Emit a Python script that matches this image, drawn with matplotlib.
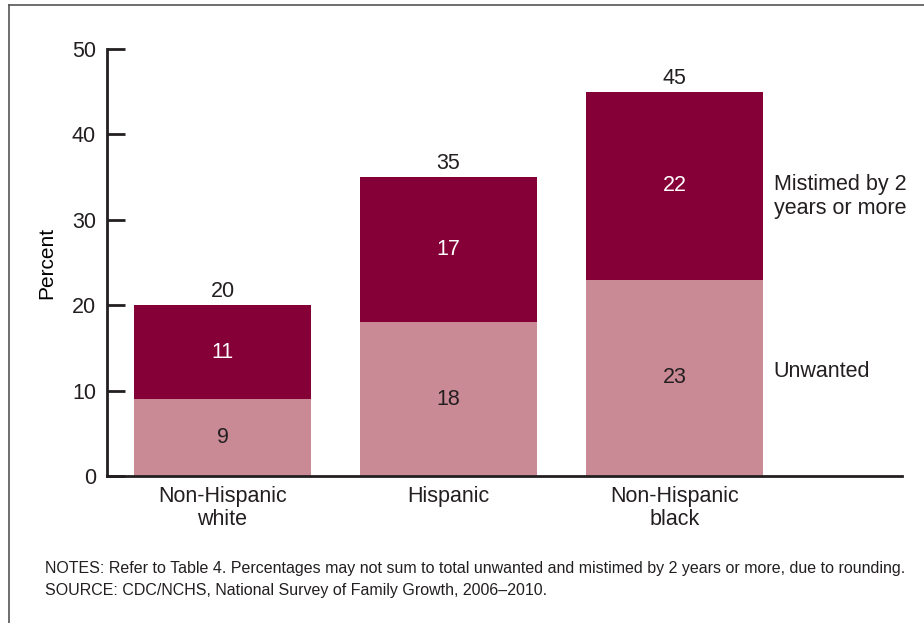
import matplotlib
matplotlib.use("Agg")
import matplotlib.pyplot as plt
from matplotlib.lines import Line2D

groups = ["Non-Hispanic\nwhite", "Hispanic", "Non-Hispanic\nblack"]
unwanted = [9, 18, 23]
mistimed = [11, 17, 22]
totals = [20, 35, 45]
yticks = [0, 10, 20, 30, 40, 50]

DARK, LIGHT, INK = "#850036", "#c98a96", "#231f20"
FS = 15.5
plt.rcParams.update({"font.family": ["Liberation Sans", "DejaVu Sans"],
                     "text.color": INK})

fig = plt.figure(figsize=(9.24, 6.23), dpi=100)
ax = fig.add_axes([107 / 924, 1 - 476 / 623, 795 / 924, 427 / 623])

x = list(range(len(groups)))
w = 0.783
ax.bar(x, unwanted, width=w, color=LIGHT, zorder=2)
ax.bar(x, mistimed, width=w, bottom=unwanted, color=DARK, zorder=2)

for i in x:
    ax.text(i, unwanted[i] / 2, str(unwanted[i]), ha="center", va="center",
            fontsize=FS, color=INK)
    ax.text(i, unwanted[i] + mistimed[i] / 2, str(mistimed[i]), ha="center",
            va="center", fontsize=FS, color="white")
    ax.text(i, totals[i] + 0.35, str(totals[i]), ha="center", va="bottom",
            fontsize=FS, color=INK)

# series labels at the right of the last bar
last = x[-1]
ax.text(last + 0.44, unwanted[last] + mistimed[last] / 2 - 1.3, "Mistimed by 2\nyears or more",
        ha="left", va="center", fontsize=FS, linespacing=1.2)
ax.text(last + 0.44, unwanted[last] / 2 + 0.7, "Unwanted", ha="left", va="center",
        fontsize=FS)

ax.set_xlim(-0.511, 3.007)
ax.set_ylim(0, 50)
ax.set_yticks(yticks)
ax.set_xticks(x)
ax.set_xticklabels(groups, fontsize=FS, linespacing=1.15)
ax.tick_params(axis="y", direction="in", length=13, width=2, labelsize=FS,
               pad=8, color=INK, labelcolor=INK)
ax.tick_params(axis="x", length=0, pad=7, labelcolor=INK)
ax.set_ylabel("Percent", fontsize=15, labelpad=11)
for sp in ("top", "right"):
    ax.spines[sp].set_visible(False)
for sp in ("left", "bottom"):
    ax.spines[sp].set_linewidth(2)
    ax.spines[sp].set_color(INK)

fig.text(45 / 924, 1 - 569 / 623, "NOTES: Refer to Table 4. Percentages may not sum to total "
         "unwanted and mistimed by 2 years or more, due to rounding.",
         fontsize=11.5, va="center")
fig.text(45 / 924, 1 - 591 / 623, "SOURCE: CDC/NCHS, National Survey of Family Growth, 2006\u20132010.",
         fontsize=11.5, va="center")

# frame of the figure box (top and left edges)
fig.add_artist(Line2D([9 / 924, 1], [1 - 5 / 623, 1 - 5 / 623], color="#555555", lw=1.2,
                      transform=fig.transFigure))
fig.add_artist(Line2D([9 / 924, 9 / 924], [0, 1 - 5 / 623], color="#555555", lw=1.2,
                      transform=fig.transFigure))

fig.savefig("out.png", dpi=100)
